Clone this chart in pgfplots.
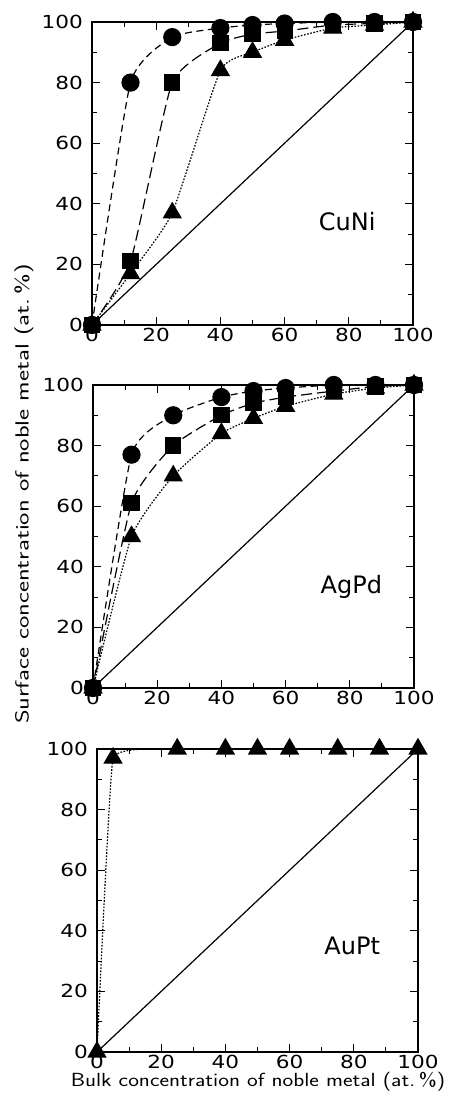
\documentclass[border=0pt]{standalone}
\usepackage{fontspec}
\setmainfont{DejaVu Sans}
\newfontfamily\tickfont[FakeStretch=1.2]{DejaVu Sans}
\usepackage{pgfplots}
\pgfplotsset{compat=1.18}
\tikzset{lbl/.style={font=\fontsize{24}{26}\selectfont}}
\pgfplotsset{
  panel/.style={
    scale only axis, width=321pt, height=303pt,
    xmin=0, xmax=100, ymin=0, ymax=100,
    xtick={0,20,...,100}, ytick={0,20,...,100},
    minor tick num=1,
    tick align=inside,
    major tick length=8pt, minor tick length=5pt,
    axis line style={line width=1.1pt},
    every tick/.style={black, line width=0.9pt},
    tick label style={font=\tickfont\fontsize{18}{20}\selectfont},
    xticklabel style={inner ysep=0pt, yshift=-2.5pt},
    yticklabel style={inner xsep=0pt, xshift=-9pt},
    /pgf/number format/assume math mode=true,
    clip=false,
    anchor=south west,
  },
  circ/.style={black, line width=1.2pt, dash pattern=on 7pt off 4.5pt, smooth, tension=0.3,
     mark=*, mark size=8.5pt, mark options={solid, fill=black}},
  sq/.style={black, line width=1.2pt, dash pattern=on 11pt off 5pt, smooth, tension=0.3,
     mark=square*, mark size=7.5pt, mark options={solid, fill=black}},
  tri/.style={black, line width=1.2pt, dash pattern=on 1.6pt off 1.6pt, smooth, tension=0.3,
     mark=triangle*, mark size=10pt, mark options={solid, fill=black}},
  diag/.style={black, line width=1.2pt, solid, no marks},
}
\begin{document}
\begin{tikzpicture}
\useasboundingbox (0pt,0pt) rectangle (453pt,1103pt);
% CuNi
\begin{axis}[panel, at={(92pt,778pt)}]
\addplot[diag] coordinates {(0,0) (100,100)};
\addplot[circ] coordinates {(0,0) (12,80) (25,95) (40,98) (50,99) (60,99.5) (75,100) (88,100) (100,100)};
\addplot[sq] coordinates {(0,0) (12,21) (25,80) (40,93) (50,96) (60,97) (75,99) (88,99.5) (100,100)};
\addplot[tri] coordinates {(0,0) (12,17) (25,37) (40,84) (50,90) (60,94) (75,98) (88,99) (100,100)};
\node[lbl] at (axis cs:79.5,34) {CuNi};
\end{axis}
% AgPd
\begin{axis}[panel, at={(93pt,415pt)}]
\addplot[diag] coordinates {(0,0) (100,100)};
\addplot[circ] coordinates {(0,0) (12,77) (25,90) (40,96) (50,98) (60,99) (75,100) (88,100) (100,100)};
\addplot[sq] coordinates {(0,0) (12,61) (25,80) (40,90) (50,94) (60,96) (75,98) (88,99.5) (100,100)};
\addplot[tri] coordinates {(0,0) (12,50) (25,70) (40,84) (50,89) (60,93) (75,97) (88,99) (100,100)};
\node[lbl] at (axis cs:80.5,33.5) {AgPd};
\end{axis}
% AuPt
\begin{axis}[panel, at={(97pt,51pt)}]
\addplot[diag] coordinates {(0,0) (100,100)};
\addplot[tri, tension=0.15] coordinates {(0,0) (5,97) (25,100) (40,100) (50,100) (60,100) (75,100) (88,100) (100,100)};
\node[lbl] at (axis cs:79.5,35) {AuPt};
\end{axis}
\node[rotate=90, font=\sffamily\fontsize{19}{21}\selectfont] at (24pt,609pt) {\scalebox{1.38}[1]{Surface concentration of noble metal (at.\,\%)}};
\node[font=\sffamily\fontsize{19}{21}\selectfont, inner sep=0pt] at (258pt,21pt) {\scalebox{1.2}[1]{Bulk concentration of noble metal (at.\,\%)}};
\end{tikzpicture}
\end{document}
